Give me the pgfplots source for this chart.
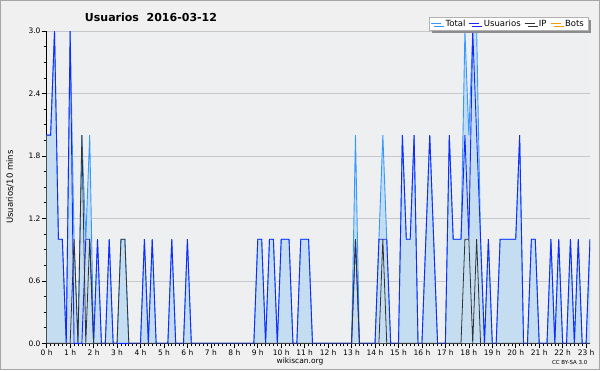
\documentclass[border=0pt]{standalone}
\usepackage{fontspec}
\setmainfont{DejaVu Sans}
\usepackage{pgfplots}
\pgfplotsset{compat=1.18}
\usepackage{pgfplotstable}
\usetikzlibrary{shadows}
\definecolor{outerbg}{HTML}{F0F0F0}
\definecolor{plotbg}{HTML}{EEEFF1}
\definecolor{fillc}{HTML}{C5DDF1}
\definecolor{totalc}{HTML}{3399FF}
\definecolor{userc}{HTML}{1428FF}
\definecolor{ipc}{HTML}{333333}
\definecolor{botsc}{HTML}{FF9900}
\definecolor{gridc}{HTML}{C8C8CC}
\pgfplotstableread{
i U IP T
0 2 0 2
1 2 0 2
2 3 0 3
3 1 0 1
4 1 0 1
5 0 0 0
6 3 0 3
7 0 1 1
8 0 0 0
9 0 2 2
10 1 0 1
11 1 1 2
12 0 0 0
13 1 0 1
14 0 0 0
15 0 0 0
16 1 0 1
17 0 0 0
18 0 0 0
19 0 1 1
20 0 1 1
21 0 0 0
22 0 0 0
23 0 0 0
24 0 0 0
25 1 0 1
26 0 0 0
27 1 0 1
28 0 0 0
29 0 0 0
30 0 0 0
31 0 0 0
32 1 0 1
33 0 0 0
34 0 0 0
35 0 0 0
36 1 0 1
37 0 0 0
38 0 0 0
39 0 0 0
40 0 0 0
41 0 0 0
42 0 0 0
43 0 0 0
44 0 0 0
45 0 0 0
46 0 0 0
47 0 0 0
48 0 0 0
49 0 0 0
50 0 0 0
51 0 0 0
52 0 0 0
53 0 0 0
54 1 0 1
55 1 0 1
56 0 0 0
57 1 0 1
58 1 0 1
59 0 0 0
60 1 0 1
61 1 0 1
62 1 0 1
63 0 0 0
64 0 0 0
65 1 0 1
66 1 0 1
67 1 0 1
68 0 0 0
69 0 0 0
70 0 0 0
71 0 0 0
72 0 0 0
73 0 0 0
74 0 0 0
75 0 0 0
76 0 0 0
77 0 0 0
78 0 0 0
79 1 1 2
80 0 0 0
81 0 0 0
82 0 0 0
83 0 0 0
84 0 0 0
85 1 0 1
86 1 1 2
87 1 0 1
88 0 0 0
89 0 0 0
90 0 0 0
91 2 0 2
92 1 0 1
93 1 0 1
94 2 0 2
95 0 0 0
96 0 0 0
97 1 0 1
98 2 0 2
99 1 0 1
100 0 0 0
101 0 0 0
102 0 0 0
103 2 0 2
104 1 0 1
105 1 0 1
106 1 0 1
107 2 1 3
108 1 1 2
109 3 0 3
110 2 1 3
111 1 0 1
112 0 0 0
113 1 0 1
114 0 0 0
115 0 0 0
116 1 0 1
117 1 0 1
118 1 0 1
119 1 0 1
120 1 0 1
121 2 0 2
122 0 0 0
123 0 0 0
124 1 0 1
125 1 0 1
126 0 0 0
127 0 0 0
128 0 0 0
129 1 0 1
130 0 0 0
131 1 0 1
132 0 0 0
133 0 0 0
134 1 0 1
135 0 0 0
136 1 0 1
137 0 0 0
138 0 0 0
139 1 0 1
}\datatable
\begin{document}
\begin{tikzpicture}
\useasboundingbox (0,0) rectangle (600pt,370pt);
\fill[outerbg] (0,0) rectangle (600pt,370pt);
\draw[gray!70, line width=1pt] (0.5pt,0.5pt) rectangle (599.5pt,369.5pt);
\begin{axis}[
  width=543.3pt, height=312.3pt, scale only axis,
  at={(46.7pt,26.7pt)}, anchor=south west,
  xmin=0, xmax=139, ymin=0, ymax=3,
  axis x line*=bottom, axis y line*=left,
  axis line style={black, line width=0.8pt, -},
  axis background/.style={fill=plotbg},
  xtick={0,6,...,138},
  xticklabels={0 h,1 h,2 h,3 h,4 h,5 h,6 h,7 h,8 h,9 h,10 h,11 h,12 h,13 h,14 h,15 h,16 h,17 h,18 h,19 h,20 h,21 h,22 h,23 h},
  minor x tick num=5,
  ytick={0,0.6,1.2,1.8,2.4,3},
  yticklabels={0.0,0.6,1.2,1.8,2.4,3.0},
  minor y tick num=3,
  tick align=outside, major tick length=5pt, minor tick length=3pt,
  tick style={black, line width=0.6pt},
  ymajorgrids, grid style={gridc, line width=0.6pt},
  /pgf/number format/assume math mode=true,
  xticklabel style={font=\fontsize{7.5}{8}\selectfont, inner sep=1pt},
  yticklabel style={font=\fontsize{7.5}{8}\selectfont, inner sep=1pt},
  ylabel={Usuarios/10 mins},
  every axis y label/.style={at={(axis description cs:-0.0675,0.5)}, rotate=90, anchor=center, font=\fontsize{8.5}{9}\selectfont},
  title={Usuarios\ \ 2016-03-12},
  every axis title/.style={at={(axis description cs:0.192,1.045)}, anchor=center, font=\bfseries\fontsize{11}{12}\selectfont},
  legend columns=4,
  legend image code/.code={\draw[#1] (0pt,0pt) -- (10pt,0pt);},
  legend style={at={(1,1)}, anchor=north east, xshift=-2pt, yshift=14pt,
    draw=gray!60, fill=white, font=\fontsize{8.5}{10}\selectfont,
    inner xsep=2pt, inner ysep=0.5pt,
    /tikz/every even column/.append style={column sep=1.5pt},
    /tikz/every odd column/.append style={column sep=2pt},
    drop shadow={shadow xshift=3pt, shadow yshift=-3pt, fill=gray!90, opacity=1}},
]
\addplot[fill=fillc, draw=none, forget plot] table[x=i, y=T] {\datatable} \closedcycle;
\addplot[totalc, line width=0.9pt] table[x=i, y=T] {\datatable};
\addlegendentry{Total}
\addplot[userc, line width=0.9pt] table[x=i, y=U] {\datatable};
\addlegendentry{Usuarios}
\addplot[ipc, line width=0.8pt] table[x=i, y=IP] {\datatable};
\addlegendentry{IP}
\addlegendimage{botsc, line width=0.9pt}
\addlegendentry{Bots}
\end{axis}
\node[font=\fontsize{7.5}{8}\selectfont, anchor=center] at (300pt,9pt) {wikiscan.org};
\node[font=\fontsize{5.5}{6}\selectfont, anchor=east] at (591pt,8pt) {CC BY-SA 3.0};
\end{tikzpicture}
\end{document}
